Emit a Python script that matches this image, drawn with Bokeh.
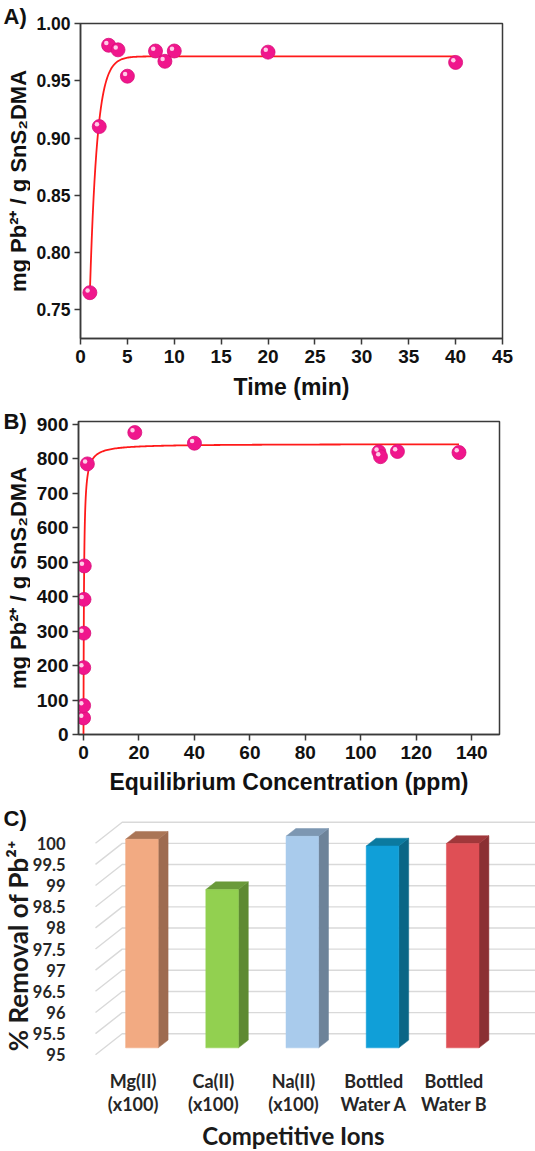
import numpy as np
from bokeh.plotting import figure
from bokeh.layouts import column, row
from bokeh.models import FixedTicker, PrintfTickFormatter, Range1d
from bokeh.core.properties import value
from bokeh.embed import file_html
from bokeh.resources import INLINE

# ---------------- (A) adsorption kinetics ----------------
time_min = [1, 2, 3, 4, 5, 8, 9, 10, 20, 40]
q_time = [0.765, 0.910, 0.981, 0.977, 0.954, 0.976, 0.967, 0.976, 0.975, 0.966]
# fitted kinetic model parameters
kin_q_eq = 0.9713
kin_q_start = 0.765
kin_k = 1.3
time_ticks = [0, 5, 10, 15, 20, 25, 30, 35, 40, 45]
qt_ticks = [0.75, 0.80, 0.85, 0.90, 0.95, 1.00]

# ---------------- (B) adsorption isotherm ----------------
ce_ppm = [0.02, 0.04, 0.08, 0.12, 0.18, 0.28, 1.4, 18.5, 40.0, 106.5, 107.1, 113.2, 135.4]
q_ce = [48, 84, 194, 294, 392, 489, 785, 876, 845, 820, 806, 821, 818]
# fitted Langmuir parameters
lang_qmax = 843.0
lang_k = 5.5
ce_ticks = [0, 20, 40, 60, 80, 100, 120, 140]
qe_ticks = [0, 100, 200, 300, 400, 500, 600, 700, 800, 900]

# ---------------- (C) competitive ions ----------------
ions = ["Mg(II)\n(x100)", "Ca(II)\n(x100)", "Na(II)\n(x100)", "Bottled\nWater A", "Bottled\nWater B"]
removal = [99.93, 98.74, 100.0, 99.77, 99.83]
removal_ticks = [95, 95.5, 96, 96.5, 97, 97.5, 98, 98.5, 99, 99.5, 100]
front_colors = ["#f2aa82", "#92d050", "#a9cbec", "#109fd8", "#df4f55"]
side_colors = ["#9e6b50", "#5e8a32", "#6d8399", "#0a6686", "#8b3033"]
top_colors = ["#aa7556", "#6a9a3a", "#7d97b2", "#0b7aa0", "#a0383b"]

AB_FONT = "Liberation Sans"
C_FONT = "Lato"
PINK = "#f0168c"
AXIS_GREY = "#3a3a3a"
Y_TITLE = "mg Pb²⁺ / g SnS₂DMA"
W = 535


def style_xy(p, tick_size_x, tick_size_y):
    for ax, size in ((p.xaxis[0], tick_size_x), (p.yaxis[0], tick_size_y)):
        ax.axis_line_color = AXIS_GREY
        ax.axis_line_width = 1.5
        ax.major_tick_line_color = AXIS_GREY
        ax.major_tick_line_width = 1.5
        ax.major_tick_out = 6
        ax.major_tick_in = 0
        ax.minor_tick_line_color = None
        ax.major_label_text_font = AB_FONT
        ax.major_label_text_font_style = "bold"
        ax.major_label_text_font_size = size
        ax.major_label_text_color = "#111111"
        ax.axis_label_text_font = AB_FONT
        ax.axis_label_text_font_style = "bold"
        ax.axis_label_text_color = "#111111"
    p.xgrid.visible = False
    p.ygrid.visible = False
    p.outline_line_color = AXIS_GREY
    p.outline_line_width = 1.5


def side_strip(width, height, y_range, top, bottom):
    """Narrow strip left of a panel holding its tag and vertical title."""
    s = figure(width=width, height=height, x_range=Range1d(0, width), y_range=y_range,
               output_backend="svg", toolbar_location=None,
               x_axis_location=None, y_axis_location=None,
               min_border_left=0, min_border_right=0, min_border_top=top, min_border_bottom=bottom)
    s.outline_line_color = None
    for g in list(s.xgrid) + list(s.ygrid):
        g.visible = False
    return s


def strip_tag(s, text, standoff):
    s.title.text = text
    s.title.align = "left"
    s.title.offset = 3
    s.title.standoff = standoff
    s.title.text_font = AB_FONT
    s.title.text_font_style = "bold"
    s.title.text_font_size = "22px"
    s.title.text_color = "#111111"
    s.title.vertical_align = "bottom"


def add_text(s, x, y, txt, font, size, angle=0.0, align="left", color="#111111"):
    s.text(x=[x], y=[y], text=[txt], angle=angle, text_font=value(font),
           text_font_style="bold", text_font_size=size, text_color=color,
           text_align=align, text_baseline="middle")


def balls(p, xs, ys, dx, dy):
    p.scatter(xs, ys, size=14, fill_color=PINK, line_color="#d80f7a", line_width=0.8)
    p.scatter([x + dx for x in xs], [y + dy for y in ys], size=4.5,
              fill_color="#ffd6ec", line_color=None, fill_alpha=0.95)


SIDE_AB = 30

# ---- panel A ----
HA, A_TOP, A_BOTTOM = 405, 23, 67
A_Y = (0.725, 1.0)
pA = figure(width=W - SIDE_AB, height=HA, x_range=(0, 45), y_range=A_Y,
            output_backend="svg", toolbar_location=None,
            min_border_left=80 - SIDE_AB, min_border_right=33,
            min_border_top=A_TOP, min_border_bottom=A_BOTTOM)
style_xy(pA, "19px", "17.5px")
pA.xaxis.ticker = FixedTicker(ticks=time_ticks)
pA.yaxis.ticker = FixedTicker(ticks=qt_ticks)
pA.yaxis.formatter = PrintfTickFormatter(format="%.2f")
pA.xaxis.major_label_standoff = 5
pA.yaxis.major_label_standoff = 4
pA.xaxis.axis_label = "Time (min)"
pA.xaxis.axis_label_text_font_size = "23px"
pA.xaxis.axis_label_standoff = 8

t_fit = np.linspace(time_min[0], time_min[-1], 400)
q_fit = kin_q_eq - (kin_q_eq - kin_q_start) * np.exp(-kin_k * (t_fit - time_min[0]))
pA.line(t_fit, q_fit, line_color="#ff1a1a", line_width=1.8)
balls(pA, time_min, q_time, -2.3 * 45 / 422, 2.3 * 0.275 / 315)

sA = side_strip(SIDE_AB, HA, Range1d(*A_Y), A_TOP, A_BOTTOM)
strip_tag(sA, "A)", -10)
add_text(sA, 18, sum(A_Y) / 2, Y_TITLE, AB_FONT, "22px", angle=np.pi / 2, align="center")

# ---- panel B ----
HB, B_TOP, B_BOTTOM = 395, 16, 66
B_Y = (0, 908)
pB = figure(width=W - SIDE_AB, height=HB, x_range=(-1.8, 150), y_range=B_Y,
            output_backend="svg", toolbar_location=None,
            min_border_left=78 - SIDE_AB, min_border_right=36,
            min_border_top=B_TOP, min_border_bottom=B_BOTTOM)
style_xy(pB, "19px", "19px")
pB.xaxis.ticker = FixedTicker(ticks=ce_ticks)
pB.yaxis.ticker = FixedTicker(ticks=qe_ticks)
pB.xaxis.major_label_standoff = 5
pB.yaxis.major_label_standoff = 4
pB.xaxis.axis_label = "Equilibrium Concentration (ppm)"
pB.xaxis.axis_label_text_font_size = "23px"
pB.xaxis.axis_label_standoff = 7

c_fit = np.concatenate([np.linspace(0, 3, 300), np.linspace(3, ce_ppm[-1], 300)])
qc_fit = lang_qmax * lang_k * c_fit / (1 + lang_k * c_fit)
pB.line(c_fit, qc_fit, line_color="#ff1a1a", line_width=1.8)
balls(pB, ce_ppm, q_ce, -2.3 * 151.8 / 421, 2.3 * 908 / 313)

sB = side_strip(SIDE_AB, HB, Range1d(*B_Y), B_TOP, B_BOTTOM)
strip_tag(sB, "B)", -24)
add_text(sB, 18, sum(B_Y) / 2, Y_TITLE, AB_FONT, "22px", angle=np.pi / 2, align="center")

# ---- panel C: pseudo-3D columns ----
# x: category index (front edge of the floor), y: % removal on the front plane
HC = 351
X_PX, Y_PX = 80.2, 42.32           # pixels per category / per 1 %
WALL_DX, WALL_DY = 26.7 / X_PX, 21.0 / Y_PX   # depth of the chart box
BAR_F0, BAR_F1 = 0.33, 0.70        # bar front/back as fraction of the depth
BAR_HW = 16.3 / X_PX
CAT0_PX = 132.6                    # screen x of the first category (front edge)
WALL_X0 = (95 - CAT0_PX) / X_PX    # left edge of the floor (front)
BASE = 95.0
Y95_PX = 254.3                     # screen y of the 95 % level (front edge)
SIDE_C = 70
C_TOP = 8
C_Y = (BASE - (HC - Y95_PX) / Y_PX, BASE + (Y95_PX - C_TOP) / Y_PX)


def level(px):
    """Value on the front plane that sits px pixels below the top of panel C."""
    return BASE + (Y95_PX - px) / Y_PX


x_end = (W - CAT0_PX) / X_PX
pC = figure(width=W - SIDE_C, height=HC, x_range=((SIDE_C - CAT0_PX) / X_PX, x_end),
            y_range=C_Y, output_backend="svg", toolbar_location=None,
            x_axis_location=None, y_axis_location=None,
            min_border_left=0, min_border_right=0, min_border_top=C_TOP, min_border_bottom=0)
pC.xgrid.visible = False
pC.ygrid.visible = False
pC.outline_line_color = None

# gridlines: slanted on the side wall, horizontal on the back wall
gx, gy = [], []
for v in removal_ticks:
    gx.append([WALL_X0, WALL_X0 + WALL_DX, x_end])
    gy.append([v, v + WALL_DY, v + WALL_DY])
pC.multi_line(gx, gy, line_color="#d9d9d9", line_width=1.4)

ddx = (BAR_F1 - BAR_F0) * WALL_DX
ddy = (BAR_F1 - BAR_F0) * WALL_DY
fx, fy, sx, sy, tx, ty = [], [], [], [], [], []
for i, v in enumerate(removal):
    xl = i + BAR_F0 * WALL_DX - BAR_HW
    xr = i + BAR_F0 * WALL_DX + BAR_HW
    yb = BASE + BAR_F0 * WALL_DY
    yt = v + BAR_F0 * WALL_DY
    fx.append([xl, xr, xr, xl]); fy.append([yb, yb, yt, yt])
    sx.append([xr, xr + ddx, xr + ddx, xr]); sy.append([yb, yb + ddy, yt + ddy, yt])
    tx.append([xl, xr, xr + ddx, xl + ddx]); ty.append([yt, yt, yt + ddy, yt + ddy])
pC.patches(sx, sy, fill_color=side_colors, line_color=side_colors, line_width=0.5)
pC.patches(tx, ty, fill_color=top_colors, line_color=top_colors, line_width=0.5)
pC.patches(fx, fy, fill_color=front_colors, line_color=front_colors, line_width=0.5)

# category labels (two lines each) and the axis title under the floor
cat_x = list(range(len(ions)))
first_lines = [lab.split("\n")[0] for lab in ions]
second_lines = [lab.split("\n")[1] for lab in ions]
for lines, px in ((first_lines, 280), (second_lines, 303)):
    pC.text(x=cat_x, y=[level(px)] * len(ions), text=lines, text_font=value(C_FONT),
            text_font_style="bold", text_font_size="18px", text_color="#262626",
            text_align="center", text_baseline="middle")
add_text(pC, (len(ions) - 1) / 2, level(335), "Competitive Ions", C_FONT, "24px",
         align="center", color="#1a1a1a")

# the strip shares the chart's value scale, so the tick labels line up with the levels
sC = side_strip(SIDE_C, HC, Range1d(*C_Y), C_TOP, 0)
sC.text(x=[65] * len(removal_ticks), y=removal_ticks, text=[f"{v:g}" for v in removal_ticks],
        text_font=value(C_FONT), text_font_style="bold", text_font_size="16.5px",
        text_color="#262626", text_align="right", text_baseline="middle")
add_text(sC, 3, level(18), "C)", AB_FONT, "22px")
add_text(sC, 17, level(145), "% Removal of Pb²⁺", C_FONT, "26px",
         angle=np.pi / 2, align="center", color="#1a1a1a")

layout = column(row(sA, pA, spacing=0), row(sB, pB, spacing=0), row(sC, pC, spacing=0), spacing=0)
open("out.html", "w").write(file_html(layout, INLINE))
